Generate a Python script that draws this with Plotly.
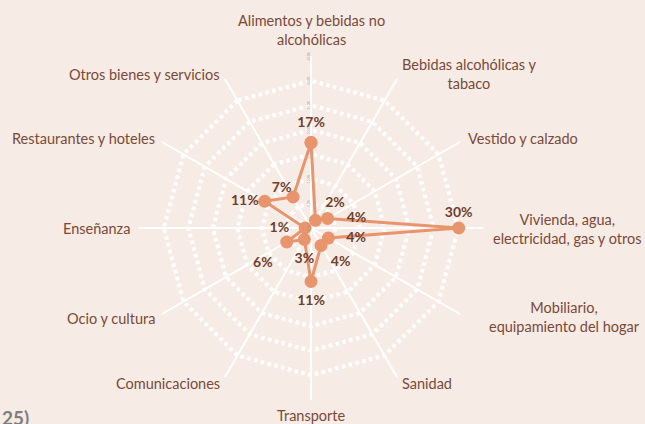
import plotly.graph_objects as go

categories = [
    "Alimentos y bebidas no<br>alcohólicas",
    "Bebidas alcohólicas y<br>tabaco",
    "Vestido y calzado",
    "Vivienda, agua,<br>electricidad, gas y otros",
    "Mobiliario,<br>equipamiento del hogar",
    "Sanidad",
    "Transporte",
    "Comunicaciones",
    "Ocio y cultura",
    "Enseñanza",
    "Restaurantes y hoteles",
    "Otros bienes y servicios",
]
values = [17.4, 1.8, 3.9, 30.1, 4.1, 4.1, 10.9, 2.7, 5.7, 1.2, 10.9, 7.3]
radial_ticks = [0, 5, 10, 15, 20, 25, 30, 35]

# styling
BG = "#F6EBE5"
LINE = "#E8946C"
LABEL = "#7A4A38"
VALUE = "#6E3F2C"
text_pos = ["top center", "top right", "middle right", "top center", "middle right",
            "bottom right", "bottom center", "bottom center", "bottom left",
            "middle left", "middle left", "top left"]
# invisible marker sizes controlling label offset from each point
text_pad = [17, 14, 29, 11, 27, 14, 20, 19, 21, 24, 8, 1]
# category label placement (paper px): x, y, xanchor
label_place = [
    (311, 30, "center"), (469, 74, "center"), (466, 138, "left"),
    (567, 229, "center"), (564, 317, "center"), (400, 383, "left"),
    (311, 415, "center"), (222, 383, "right"), (157, 318, "right"),
    (132, 228, "right"), (157, 138, "right"), (222, 74, "right"),
]

W, H = 645, 424
cx, cy, R = 311, 228, 172

fig = go.Figure()
# line + visible markers
fig.add_trace(go.Scatterpolar(
    r=values + [values[0]],
    theta=categories + [categories[0]],
    mode="lines+markers",
    line=dict(color=LINE, width=3),
    marker=dict(color=LINE, size=13),
    hoverinfo="skip",
))
# value labels (invisible markers give label offset)
fig.add_trace(go.Scatterpolar(
    r=values, theta=categories,
    mode="markers+text",
    marker=dict(color=LINE, size=text_pad, opacity=0),
    text=[f"{v:.0f}%" for v in values],
    textposition=text_pos,
    textfont=dict(family="Lato", size=14, color=VALUE, weight="bold"),
    cliponaxis=False,
    hoverinfo="skip",
))

fig.update_layout(
    width=W, height=H,
    paper_bgcolor=BG, plot_bgcolor=BG,
    margin=dict(l=0, r=0, t=0, b=0),
    showlegend=False,
    separators=",.",
    polar=dict(
        bgcolor=BG,
        domain=dict(x=[(cx - R) / W, (cx + R) / W], y=[(H - cy - R) / H, (H - cy + R) / H]),
        gridshape="linear",
        radialaxis=dict(
            range=[0, 35.05], tickvals=radial_ticks,
            ticktext=[f"{t:.1f}%".replace(".", ",") for t in radial_ticks],
            angle=90, tickangle=0, side="counterclockwise",
            showline=False, ticks="",
            gridcolor="white", gridwidth=3.5, griddash="dot",
            tickfont=dict(family="Lato", size=3, color="#A89890"),
        ),
        angularaxis=dict(
            rotation=90, direction="clockwise",
            showticklabels=False, ticks="", showline=False,
            gridcolor="white", gridwidth=2,
        ),
    ),
)

for cat, (px, py, xa) in zip(categories, label_place):
    fig.add_annotation(
        text=cat, xref="paper", yref="paper",
        x=px / W, y=1 - py / H, xanchor=xa, yanchor="middle",
        showarrow=False, align="center",
        font=dict(family="Lato", size=14.5, color=LABEL),
    )

fig.add_annotation(
    text="25)", xref="paper", yref="paper", x=0, y=1 - 404 / H,
    xanchor="left", yanchor="top", showarrow=False,
    font=dict(family="Lato", size=19, color="#7F7F7F", weight="bold"),
)

fig.write_html(
    "out.html",
    config={"displayModeBar": False},
    post_script="document.body.style.margin='0';document.body.style.overflow='hidden';",
)
